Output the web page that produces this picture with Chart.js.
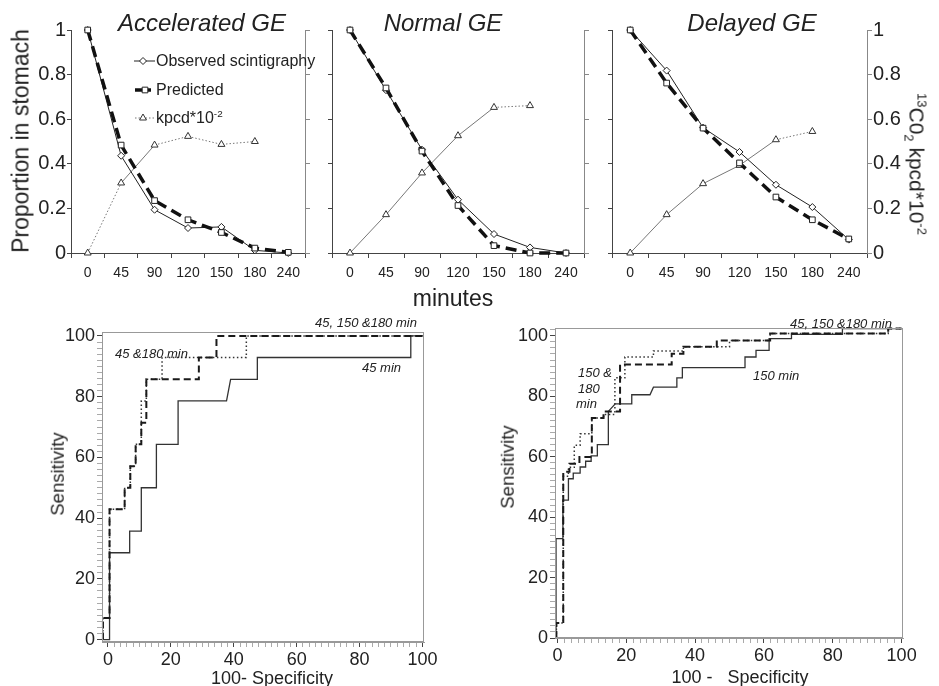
<!DOCTYPE html>
<html>
<head>
<meta charset="utf-8">
<title>Gastric emptying and ROC curves</title>
<script src="https://cdn.jsdelivr.net/npm/chart.js@4.4.1/dist/chart.umd.min.js"></script>
<style>
  body { margin: 0; background: #fff; }
  #page { position: relative; width: 939px; height: 686px; overflow: hidden; font-family: "Liberation Sans", Arial, sans-serif; color: #222; }
  #page canvas { position: absolute; left: 0; top: 0; }
  .t { position: absolute; white-space: pre; line-height: 1; transform: translate(-50%, -50%); }
  .l { position: absolute; white-space: pre; line-height: 1; transform: translateY(-50%); }
  .it { font-style: italic; }
  .up { transform: translate(-50%, -50%) rotate(-90deg); }
  .down { transform: translate(-50%, -50%) rotate(90deg); }
  sup, sub { font-size: 62%; line-height: 0; }
</style>
</head>
<body>
<div id="page">
  <canvas id="acc" width="939" height="686"></canvas>
  <canvas id="nor" width="939" height="686"></canvas>
  <canvas id="del" width="939" height="686"></canvas>
  <canvas id="rocA" width="939" height="686"></canvas>
  <canvas id="rocB" width="939" height="686"></canvas>

  <div class="t it" style="left:202px;top:23px;font-size:24px">Accelerated GE</div>
  <div class="t it" style="left:443px;top:23px;font-size:24px">Normal GE</div>
  <div class="t it" style="left:752px;top:23px;font-size:24px">Delayed GE</div>
  <div class="t up" style="left:21px;top:141px;font-size:23px">Proportion in stomach</div>
  <div class="t down" style="left:917px;top:164px;font-size:21px"><sup>13</sup>C0<sub>2</sub> kpcd*10<sup>-2</sup></div>
  <div class="t" style="left:453px;top:298px;font-size:23px">minutes</div>

  <div class="l" style="left:156px;top:61px;font-size:16px">Observed scintigraphy</div>
  <div class="l" style="left:156px;top:90px;font-size:16px">Predicted</div>
  <div class="l" style="left:156px;top:118px;font-size:16px">kpcd*10<sup>-2</sup></div>

  <div class="t up" style="left:58px;top:474px;font-size:18.5px">Sensitivity</div>
  <div class="t up" style="left:508px;top:467px;font-size:18.5px">Sensitivity</div>
  <div class="t" style="left:272px;top:678px;font-size:18px">100- Specificity</div>
  <div class="t" style="left:740px;top:677px;font-size:18px">100 -   Specificity</div>

  <div class="l it" style="left:315px;top:322px;font-size:13px">45, 150 &amp;180 min</div>
  <div class="l it" style="left:115px;top:353px;font-size:13px">45 &amp;180 min</div>
  <div class="l it" style="left:362px;top:367px;font-size:13px">45 min</div>
  <div class="l it" style="left:790px;top:323px;font-size:13px">45, 150 &amp;180 min</div>
  <div class="l it" style="left:578px;top:372px;font-size:13px">150 &amp;</div>
  <div class="l it" style="left:578px;top:388px;font-size:13px">180</div>
  <div class="l it" style="left:576px;top:403px;font-size:13px">min</div>
  <div class="l it" style="left:753px;top:375px;font-size:13px">150 min</div>
</div>

<script>
// Sampling times (minutes)
var minutes = ['0', '45', '90', '120', '150', '180', '240'];

// Accelerated GE
var accObserved = [1.0, 0.436, 0.194, 0.112, 0.117, 0.012, 0.0];
var accPredicted = [1.0, 0.484, 0.235, 0.149, 0.092, 0.022, 0.003];
var accKpcd = [0, 0.314, 0.484, 0.523, 0.487, 0.5, null];

// Normal GE
var norObserved = [1.0, 0.73, 0.463, 0.239, 0.085, 0.025, 0.0];
var norPredicted = [1.0, 0.74, 0.457, 0.213, 0.033, 0.0, 0.0];
var norKpcd = [0, 0.172, 0.359, 0.526, 0.653, 0.661, null];

// Delayed GE
var delObserved = [1.0, 0.818, 0.562, 0.453, 0.306, 0.206, 0.06];
var delPredicted = [1.0, 0.762, 0.56, 0.404, 0.251, 0.149, 0.063];
var delKpcd = [0, 0.172, 0.311, 0.393, 0.508, 0.545, null];

// ROC curves, [100 - specificity, sensitivity]
var rocASolid = [[-1.5, 0], [0.5, 0], [0.5, 28.6], [6.9, 28.6], [6.9, 35.7], [10.6, 35.7], [10.6, 50], [15.4, 50],
  [15.4, 64.3], [22.3, 64.3], [22.3, 78.6], [37.7, 78.6], [39, 85.7], [47.5, 85.7], [47.5, 92.9], [96.3, 92.9],
  [96.3, 100], [100.5, 100]];
var rocADashed = [[-1.6, 0], [-1.6, 7.1], [0.5, 7.1], [0.5, 42.9], [5.3, 42.9], [5.3, 50], [7.1, 50], [7.1, 57.1],
  [8.8, 57.1], [8.8, 64.3], [10.6, 64.3], [10.6, 71.4], [12.2, 71.4], [12.2, 85.7], [28.9, 85.7], [28.9, 92.9],
  [34.5, 92.9], [34.5, 100], [100.5, 100]];
var rocADotted = [[-1.6, 0], [-1.6, 7.1], [0.5, 7.1], [0.5, 42.9], [5.3, 42.9], [5.3, 50], [7.1, 50], [7.1, 57.1],
  [8.8, 57.1], [8.8, 64.3], [10.6, 64.3], [10.6, 78.6], [12.2, 78.6], [12.2, 85.7], [17.2, 85.7], [17.2, 92.9],
  [44, 92.9], [44, 100], [100.5, 100]];

var rocBSolid = [[-0.4, 0], [-0.4, 32.9], [1.6, 32.9], [1.6, 45.6], [3.2, 45.6], [3.2, 52.7], [4.6, 52.7], [4.6, 54.6],
  [6.6, 54.6], [6.6, 56.6], [8.2, 56.6], [8.2, 58.5], [9.8, 58.5], [9.8, 60.3], [11.6, 60.3], [11.6, 64],
  [14.8, 64], [14.8, 75], [16.8, 77.5], [21.6, 77.5], [21.6, 80.5], [26.9, 80.5], [27.9, 83], [34.7, 83],
  [34.7, 86.1], [36.3, 86.1], [36.3, 89.5], [54.5, 89.5], [54.5, 93], [57.7, 93], [57.7, 95.2], [61.5, 95.2],
  [61.5, 99.1], [68, 99.1], [68, 100.5], [82.8, 100.5], [82.8, 102.4], [100, 102.4]];
var rocBDashed = [[-0.3, 0], [-0.3, 5], [1.7, 5], [1.7, 55], [3.5, 55], [3.5, 57.7], [6.4, 57.7], [6.4, 59.9],
  [10, 59.9], [10, 72.8], [13.4, 72.8], [13.4, 75], [18.2, 75], [18.2, 90.5], [33.2, 90.5], [33.2, 94.1],
  [36.6, 94.1], [36.6, 96.4], [46.3, 96.4], [46.3, 98.5], [61.8, 98.5], [61.8, 100.8], [96.1, 100.8],
  [96.1, 102.4], [100, 102.4]];
var rocBDotted = [[-0.3, 0], [-0.3, 5], [1.7, 5], [1.7, 53.5], [3.2, 53.5], [3.2, 56.5], [4.9, 56.5], [4.9, 63.8],
  [6.6, 63.8], [6.6, 67.6], [10, 67.6], [10, 72.8], [13.4, 72.8], [13.4, 74], [16.7, 74], [16.7, 86.1],
  [19.6, 86.1], [19.6, 93], [27.9, 93], [27.9, 95], [36.6, 95], [36.6, 96.4], [50, 96.4], [50, 98.5],
  [61.8, 98.5], [61.8, 100.8], [96.1, 100.8], [96.1, 102.4], [100, 102.4]];

Chart.defaults.font.family = '"Liberation Sans", Arial, sans-serif';
Chart.defaults.color = '#222';

// force an axis to a fixed thickness so the plot areas land where they should
function fixed(size) {
  return function (scale) {
    if (scale.isHorizontal()) scale.height = size; else scale.width = size;
  };
}

// legend drawn inside the first panel
var geLegend = {
  id: 'geLegend',
  afterDraw: function (chart) {
    var ctx = chart.ctx;
    var rows = [
      { ds: 1, y: 61, x0: 134, x1: 155, xm: 143, dash: [] },
      { ds: 0, y: 90, x0: 135, x1: 151, xm: 145, dash: [] },
      { ds: 2, y: 118, x0: 135, x1: 155, xm: 143, dash: [1.5, 2] }
    ];
    rows.forEach(function (r) {
      var d = chart.data.datasets[r.ds];
      ctx.save();
      ctx.strokeStyle = d.borderColor;
      ctx.lineWidth = d.borderWidth;
      ctx.setLineDash(r.dash);
      ctx.beginPath();
      ctx.moveTo(r.x0, r.y);
      ctx.lineTo(r.x1, r.y);
      ctx.stroke();
      ctx.setLineDash([]);
      ctx.fillStyle = d.pointBackgroundColor;
      ctx.strokeStyle = d.pointBorderColor;
      ctx.lineWidth = 1;
      if (Chart.helpers && Chart.helpers.drawPoint) {
        Chart.helpers.drawPoint(ctx, { pointStyle: d.pointStyle, radius: d.pointRadius, borderWidth: 1, rotation: 0 }, r.xm, r.y);
      }
      ctx.restore();
    });
  }
};

// "1", "0.8" ... "0" like the original, not "1.0"
function shortNum(v) {
  return String(Math.round(v * 10) / 10);
}

function gePanel(id, area, observed, predicted, kpcd, leftLabels, rightLabels, dottedSegs, plugins) {
  return new Chart(document.getElementById(id), {
    type: 'line',
    data: {
      labels: minutes,
      datasets: [{
        label: 'Predicted',
        data: predicted,
        borderColor: '#111',
        borderWidth: 3.5,
        borderDash: [11, 6],
        pointStyle: 'rect',
        pointRadius: 4,
        pointBorderWidth: 1,
        pointBackgroundColor: '#fff',
        pointBorderColor: '#222',
        clip: false
      }, {
        label: 'Observed scintigraphy',
        data: observed,
        borderColor: '#222',
        borderWidth: 1,
        pointStyle: 'rectRot',
        pointRadius: 3.5,
        pointBorderWidth: 1,
        pointBackgroundColor: '#fff',
        pointBorderColor: '#222',
        clip: false
      }, {
        label: 'kpcd*10-2',
        data: kpcd,
        yAxisID: 'y2',
        borderColor: '#777',
        borderWidth: 1,
        pointStyle: 'triangle',
        pointRadius: 4,
        pointBorderWidth: 1,
        pointBackgroundColor: '#fff',
        pointBorderColor: '#333',
        clip: false,
        segment: {
          borderDash: function (c) { return dottedSegs.indexOf(c.p0DataIndex) >= 0 ? [1.5, 2] : undefined; }
        }
      }]
    },
    options: {
      responsive: false,
      animation: false,
      events: [],
      layout: { padding: { left: area.left - 45, right: 939 - area.right - 45, top: area.top, bottom: 686 - area.bottom - 30 } },
      plugins: { legend: { display: false }, tooltip: { enabled: false } },
      scales: {
        x: {
          offset: true,
          grid: { offset: true, drawOnChartArea: false, tickLength: 5, color: '#444' },
          border: { color: '#444' },
          ticks: { font: { size: 14 }, padding: 7, maxRotation: 0, autoSkip: false },
          afterFit: fixed(30)
        },
        y: {
          position: 'left', min: 0, max: 1,
          grid: { drawOnChartArea: false, tickLength: 4, color: '#444' },
          border: { color: '#444' },
          ticks: { stepSize: 0.2, display: leftLabels, font: { size: 20 }, padding: 1, callback: shortNum },
          afterFit: fixed(45)
        },
        y2: {
          position: 'right', min: 0, max: 1,
          grid: { drawOnChartArea: false, tickLength: 5, color: '#888' },
          border: { color: '#888' },
          ticks: { stepSize: 0.2, display: rightLabels, font: { size: 20 }, padding: 1, callback: shortNum },
          afterFit: fixed(45)
        }
      }
    },
    plugins: plugins || []
  });
}

var rocFrame = {
  id: 'rocFrame',
  afterDraw: function (chart) {
    var a = chart.chartArea, ctx = chart.ctx;
    ctx.save();
    ctx.strokeStyle = '#999';
    ctx.lineWidth = 1;
    ctx.strokeRect(a.left + 0.5, a.top + 0.5, a.right - a.left - 1, a.bottom - a.top - 1);
    ctx.restore();
  }
};

function toXY(pairs) {
  return pairs.map(function (p) { return { x: p[0], y: p[1] }; });
}

function rocAxis(min, max, size) {
  return {
    type: 'linear', min: min, max: max,
    grid: {
      drawOnChartArea: false, tickLength: 5,
      tickColor: function (c) { return c.tick && c.tick.value % 20 === 0 ? '#444' : '#aaa'; }
    },
    border: { color: '#999' },
    ticks: {
      stepSize: 2, includeBounds: false, autoSkip: false, maxRotation: 0, padding: 2,
      font: { size: 18 },
      callback: function (v) { return v % 20 === 0 && v >= 0 && v <= 100 ? String(v) : ''; }
    },
    afterFit: fixed(size)
  };
}

function rocPanel(id, area, xr, yr, solid, dashed, dotted) {
  return new Chart(document.getElementById(id), {
    type: 'scatter',
    data: {
      datasets: [{
        label: 'dashed', data: toXY(dashed), showLine: true, pointRadius: 0,
        borderColor: '#1a1a1a', borderWidth: 2, borderDash: [7, 4], clip: false
      }, {
        label: 'dotted', data: toXY(dotted), showLine: true, pointRadius: 0,
        borderColor: '#333', borderWidth: 1.5, borderDash: [1.5, 2.5], clip: false
      }, {
        label: 'solid', data: toXY(solid), showLine: true, pointRadius: 0,
        borderColor: '#333', borderWidth: 1.3, clip: false
      }]
    },
    options: {
      responsive: false,
      animation: false,
      events: [],
      layout: { padding: { left: area.left - 45, right: 939 - area.right, top: area.top, bottom: 686 - area.bottom - 40 } },
      plugins: { legend: { display: false }, tooltip: { enabled: false } },
      scales: {
        x: rocAxis(xr[0], xr[1], 40),
        y: rocAxis(yr[0], yr[1], 45)
      }
    },
    plugins: [rocFrame]
  });
}

gePanel('acc', { left: 71, right: 305, top: 30, bottom: 253 }, accObserved, accPredicted, accKpcd, true, false, [0, 2, 3, 4], [geLegend]);
gePanel('nor', { left: 332, right: 584, top: 30, bottom: 253 }, norObserved, norPredicted, norKpcd, false, false, [4]);
gePanel('del', { left: 612, right: 867, top: 30, bottom: 253 }, delObserved, delPredicted, delKpcd, false, true, [4]);

rocPanel('rocA', { left: 102, right: 424, top: 332, bottom: 642 }, [-1.9, 100.5], [-0.8, 101.3], rocASolid, rocADashed, rocADotted);
rocPanel('rocB', { left: 555, right: 903, top: 328, bottom: 638 }, [-0.7, 100.4], [0, 102.6], rocBSolid, rocBDashed, rocBDotted);
</script>
</body>
</html>
